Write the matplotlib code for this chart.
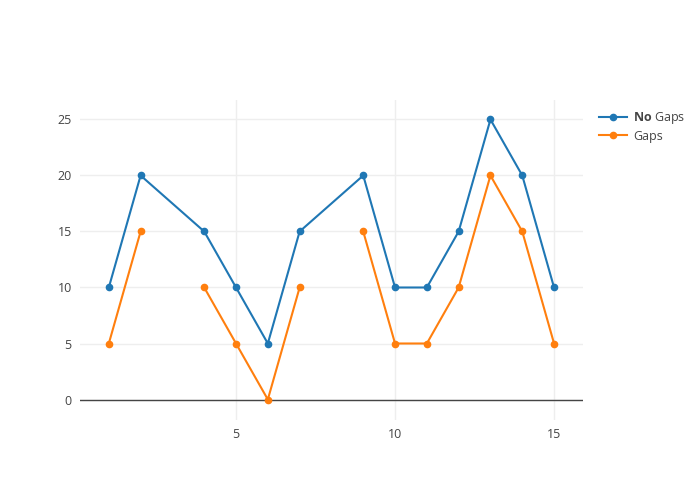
import numpy as np
import matplotlib.pyplot as plt

plt.rcParams['font.family'] = ['Open Sans', 'DejaVu Sans']
plt.rcParams['mathtext.fontset'] = 'custom'
plt.rcParams['mathtext.rm'] = 'Open Sans'
plt.rcParams['mathtext.bf'] = 'Open Sans:bold'

x = list(range(1, 16))
no_gaps = [10, 20, None, 15, 10, 5, 15, None, 20, 10, 10, 15, 25, 20, 10]
gaps = [5, 15, None, 10, 5, 0, 10, None, 15, 5, 5, 10, 20, 15, 5]

blue = '#1f77b4'
orange = '#ff7f0e'

fig = plt.figure(figsize=(7, 5), dpi=100)
ax = fig.add_axes([80 / 700, 80 / 500, 503 / 700, 320 / 500])

# blue trace connects over the missing values
xb = [xi for xi, v in zip(x, no_gaps) if v is not None]
yb = [v for v in no_gaps if v is not None]
ax.plot(xb, yb, color=blue, lw=1.5, marker='o', ms=4.5, label=r'$\bf{No}$ Gaps',
        zorder=3)

# orange trace breaks at the missing values
yo = np.array([np.nan if v is None else v for v in gaps], dtype=float)
ax.plot(x, yo, color=orange, lw=1.5, marker='o', ms=4.5, label='Gaps', zorder=3)

ax.set_xlim(0.094, 15.91)
ax.set_ylim(-1.83, 26.74)
ax.set_xticks([5, 10, 15])
ax.set_yticks([0, 5, 10, 15, 20, 25])
ax.grid(True, color='#eeeeee', lw=1)
ax.set_axisbelow(True)
ax.axhline(0, color='#444444', lw=1, zorder=2)
for s in ax.spines.values():
    s.set_visible(False)
ax.tick_params(length=0, labelsize=9, colors='#444444', pad=6)

fig.legend(loc='upper left', bbox_to_anchor=(594 / 700, 1 - 105 / 500),
           frameon=False, fontsize=9, handlelength=2.2, handletextpad=0.5,
           labelspacing=0.3, borderaxespad=0, labelcolor='#444444')

fig.savefig('out.png', dpi=100)
